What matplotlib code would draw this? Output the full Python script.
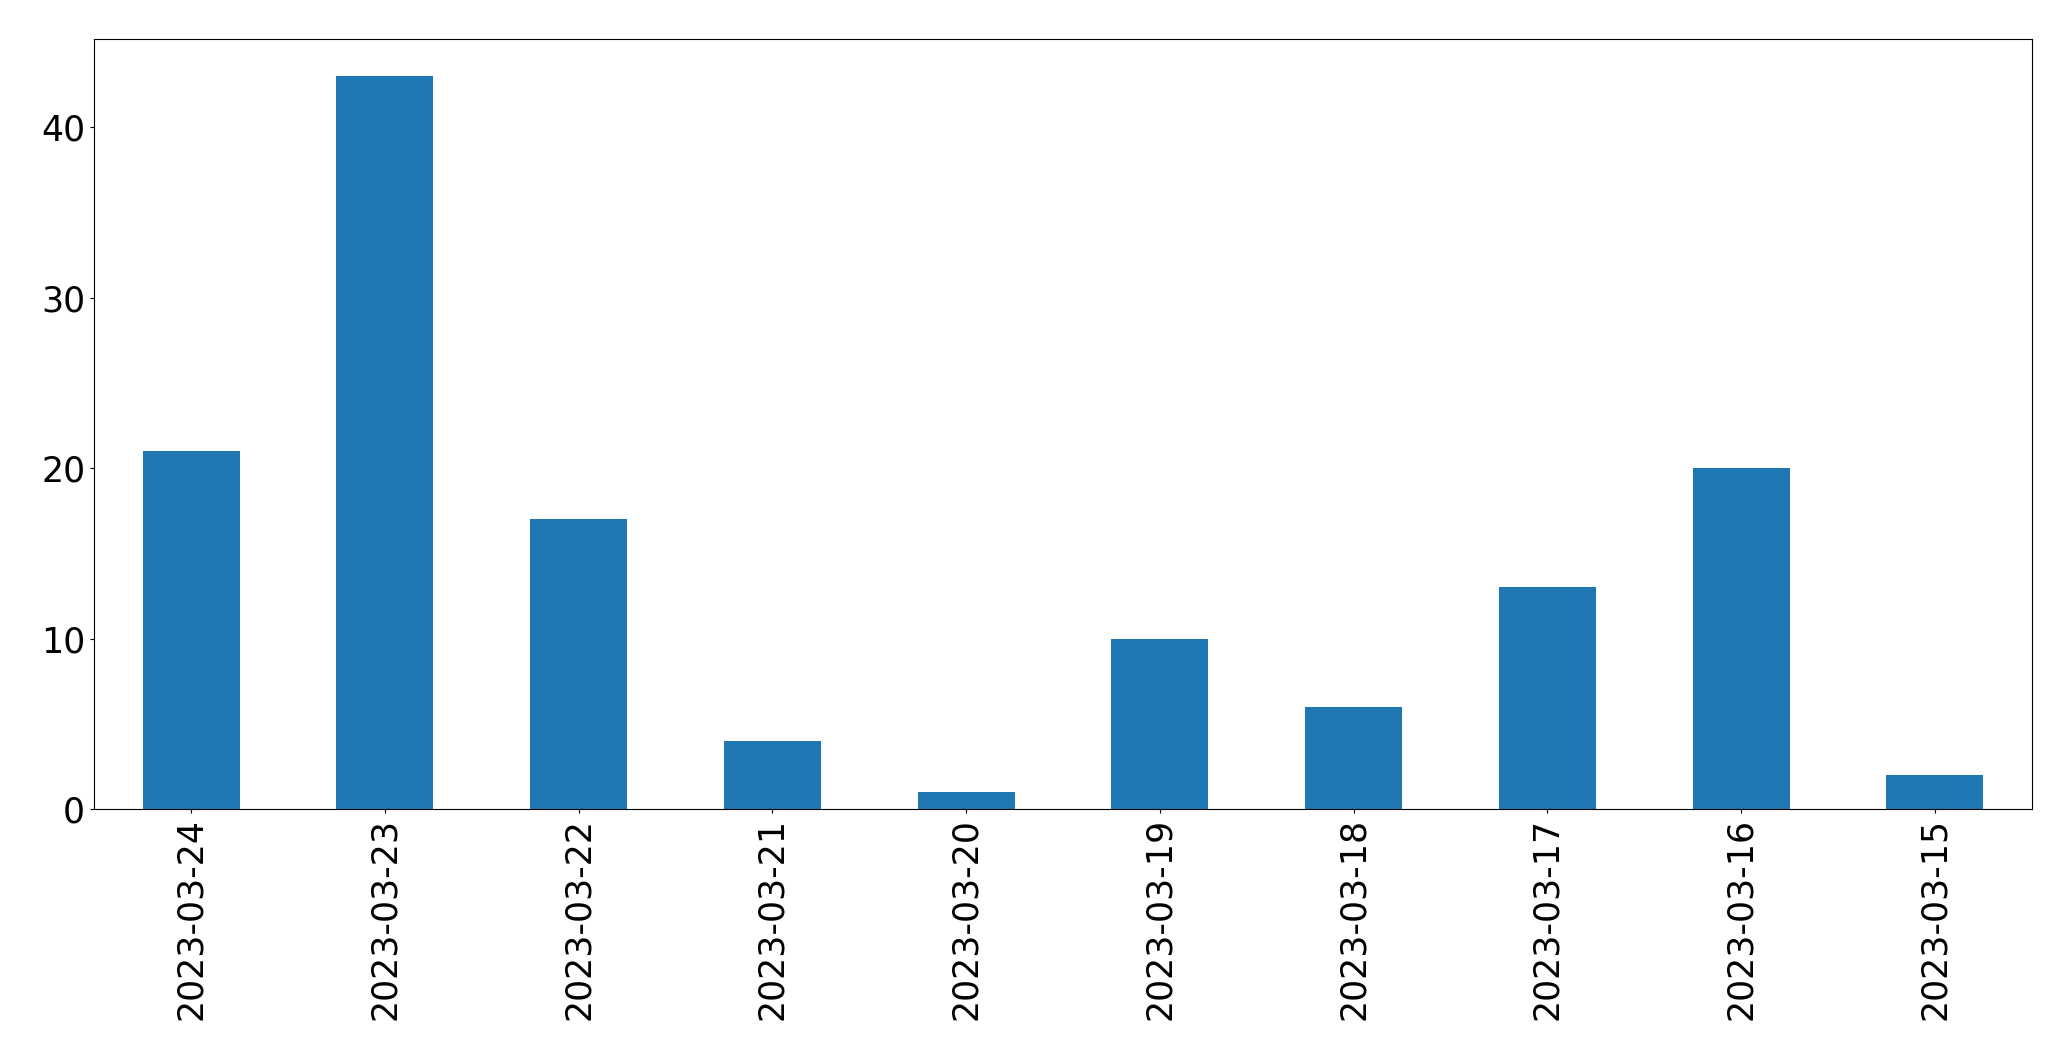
import matplotlib
matplotlib.use('Agg')
import matplotlib.pyplot as plt
import pandas as pd

dates = ['2023-03-24', '2023-03-23', '2023-03-22', '2023-03-21', '2023-03-20',
         '2023-03-19', '2023-03-18', '2023-03-17', '2023-03-16', '2023-03-15']
counts = [21, 43, 17, 4, 1, 10, 6, 13, 20, 2]

data = pd.Series(counts, index=dates)

fig = plt.figure(figsize=(20.71, 10.61), dpi=100)
ax = fig.add_axes([94.3 / 2071, (1061 - 809) / 1061, 1937.4 / 2071, 769.7 / 1061])

data.plot(kind='bar', ax=ax, color='#1f77b4', fontsize=25)
ax.tick_params(length=4.3 * 72 / 100)

fig.savefig('out.png', dpi=100)
